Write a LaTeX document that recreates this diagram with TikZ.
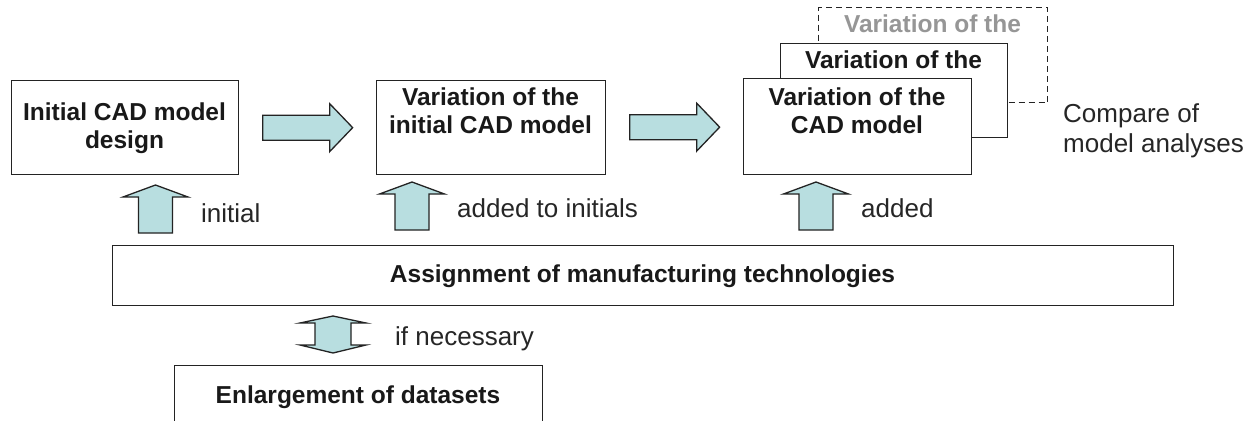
\documentclass[tikz,border=0pt]{standalone}
\usepackage{fontspec}
\setmainfont{Liberation Sans}
\usetikzlibrary{calc}
\definecolor{arrowfill}{RGB}{184,222,224}
\definecolor{linecol}{RGB}{35,35,35}
\definecolor{ghost}{RGB}{150,150,150}
\tikzset{
  box/.style={draw=linecol, line width=1.3pt, fill=white, rectangle, inner sep=0pt, anchor=north west},
  ghostbox/.style={box, draw=linecol, dash pattern=on 6pt off 4pt},
  boxtext/.style={inner sep=0pt, anchor=base, font=\fontsize{24.5}{28}\selectfont\bfseries, text=black!90},
  ghosttext/.style={boxtext, text=ghost},
  lbl/.style={inner sep=0pt, anchor=base west, font=\fontsize{26}{30}\selectfont, text=black!85},
  blockarrow/.style={draw=linecol, line width=1.3pt, fill=arrowfill, line join=miter},
  rarrow/.pic={\draw[blockarrow] (45,0) -- (22,-24) -- (22,-12.5) -- (-45,-12.5) -- (-45,12.5) -- (22,12.5) -- (22,24) -- cycle;},
  uparrow/.pic={\draw[blockarrow] (0,-24) -- (32.5,-12) -- (17,-12) -- (17,24) -- (-17,24) -- (-17,-12) -- (-32.5,-12) -- cycle;},
  dblarrow/.pic={\draw[blockarrow] (0,-18.5) -- (33,-11.5) -- (18,-11.5) -- (18,10.5) -- (33,10.5) -- (0,18.5) -- (-33,10.5) -- (-18,10.5) -- (-18,-11.5) -- (-33,-11.5) -- cycle;}
}
\begin{document}
\begin{tikzpicture}[x=1pt, y=-1pt]
\clip (0,0) rectangle (1257,420);
\fill[white] (0,0) rectangle (1257,420);

% main boxes
\node[box, minimum width=227pt, minimum height=94pt] (b1) at (11,80) {};
\node[box, minimum width=229pt, minimum height=94pt] (b2) at (376,80) {};
\node[ghostbox, minimum width=229pt, minimum height=95pt] (b3c) at (818,7) {};
\node[box, minimum width=227pt, minimum height=94pt] (b3b) at (780,43) {};
\node[box, minimum width=228pt, minimum height=96pt] (b3a) at (743,78) {};
\node[box, minimum width=1061pt, minimum height=60pt] (asg) at (112,245) {};
\node[box, minimum width=368pt, minimum height=80pt] (enl) at (174,365) {};

% box texts
\node[boxtext] (t1a) at (124.5,120) {Initial CAD model};
\node[boxtext] (t1b) at (124.5,148) {design};
\node[boxtext] (t2a) at (490.5,105) {Variation of the};
\node[boxtext] (t2b) at (490.5,133) {initial CAD model};
\node[ghosttext] (t3c) at (932.5,33) {Variation of the};
\node[boxtext] (t3b) at (893.5,68) {Variation of the};
\node[boxtext] (t3a) at (857,105) {Variation of the};
\node[boxtext] (t3a2) at (857,133) {CAD model};
\node[boxtext] (tasg) at (642.5,282) {Assignment of manufacturing technologies};
\node[boxtext] (tenl) at (358,403) {Enlargement of datasets};

% block arrows
\pic at ($(b1.east)!0.5!(b2.west)$) {rarrow};
\pic at ($(b2.east)!0.5!(b3a.west)$) {rarrow};
\pic at (155.5,209) {uparrow};
\pic at (412,206) {uparrow};
\pic at (816,206) {uparrow};
\pic at (333,334.5) {dblarrow};

% labels
\node[lbl] (l1) at (201,222) {initial};
\node[lbl] (l2) at (457,217) {added to initials};
\node[lbl] (l3) at (861,217) {added};
\node[lbl] (l4) at (395,345) {if necessary};
\node[lbl] (l5) at (1063,122) {Compare of};
\node[lbl] (l6) at (1063,152) {model analyses};
\end{tikzpicture}
\end{document}
